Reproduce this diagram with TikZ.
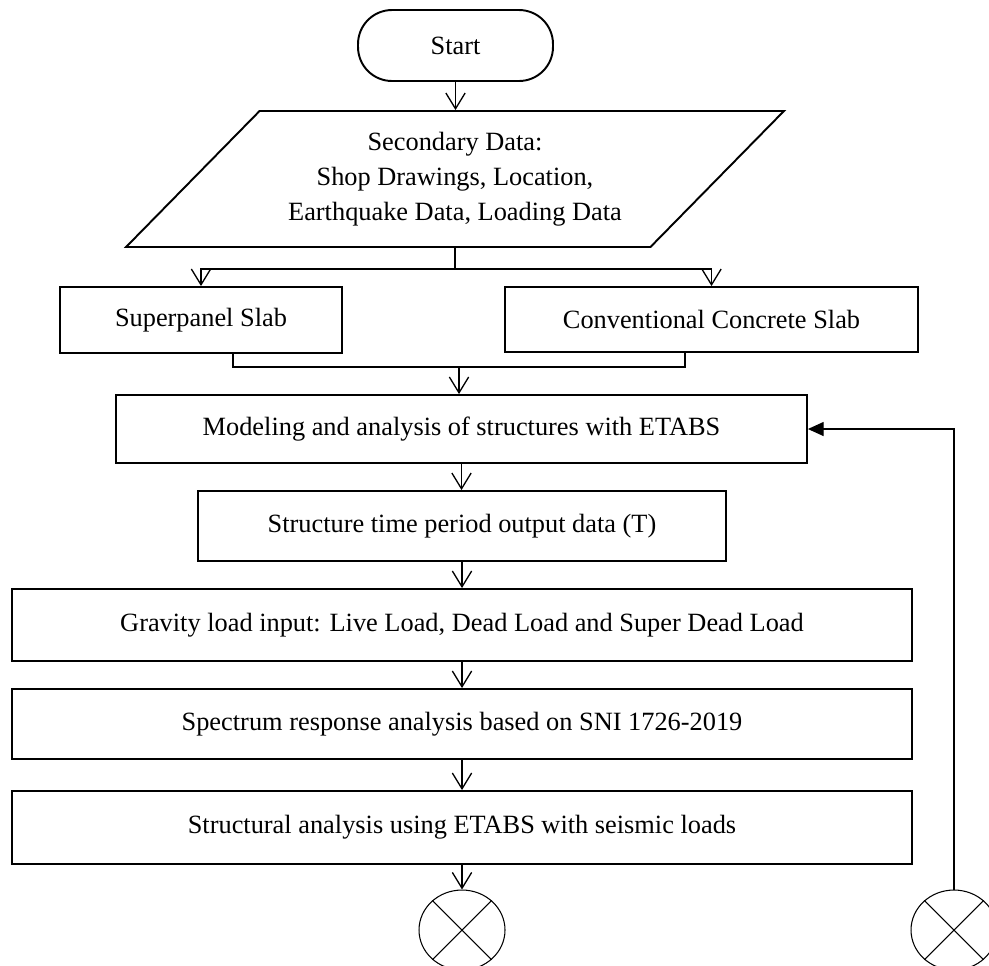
\documentclass[tikz,border=0pt]{standalone}
\usepackage{fontspec}
\setmainfont{Liberation Serif}
\usetikzlibrary{arrows.meta,shapes.geometric}

\tikzset{
  box/.style={draw, line width=1.1pt, inner sep=2pt, align=center},
  conn/.style={line width=0.75pt},
  arr/.style={conn, -{Straight Barb[length=9pt,width=11pt]}},
  fb/.style={conn, -{Triangle[length=9pt,width=8pt]}},
  ends/.style={draw, ellipse, line width=0.6pt, inner sep=0pt, minimum width=1.72cm, minimum height=1.6cm}
}

\begin{document}
\begin{tikzpicture}[x=0.02cm, y=-0.02cm, font=\fontsize{15}{19.8}\selectfont]
\useasboundingbox (0,0) rectangle (989,965);

\node[box, rounded corners=0.68cm, minimum width=3.9cm, minimum height=1.42cm] (start) at (455.5,45.5) {Start};
\node[box, trapezium, trapezium left angle=37, trapezium right angle=143, trapezium stretches body,
      minimum width=13.16cm, minimum height=2.72cm] (data) at (455,179)
      {Secondary Data:\\ Shop Drawings, Location,\\ Earthquake Data, Loading Data};
\node[box, minimum width=5.64cm, minimum height=1.32cm] (super) at (201,320) {Superpanel Slab};
\node[box, minimum width=8.26cm, minimum height=1.3cm] (conv) at (711.5,319.5) {Conventional Concrete Slab};
\node[box, minimum width=13.82cm, minimum height=1.36cm] (model) at (461.5,429) {Modeling and analysis of structures with ETABS};
\node[box, minimum width=10.56cm, minimum height=1.4cm] (period) at (462,526) {Structure time period output data (T)};
\node[box, minimum width=18cm, minimum height=1.44cm] (gravity) at (462,625) {Gravity load input: Live Load, Dead Load and Super Dead Load};
\node[box, minimum width=18cm, minimum height=1.4cm] (spectrum) at (462,724) {Spectrum response analysis based on SNI 1726-2019};
\node[box, minimum width=18cm, minimum height=1.46cm] (seismic) at (462,827.5) {Structural analysis using ETABS with seismic loads};

% Off-page connectors
\node[ends] (conA) at (462,930) {};
\node[ends] (conB) at (954,930) {};
\foreach \c in {conA,conB} {
  \draw[line width=0.6pt] (\c.45) -- (\c.225) (\c.135) -- (\c.315);
}

% Connectors
\draw[arr] (start.south) -- (start.south |- data.north);
\draw[conn] (data.south) -- ++(0,21) coordinate (fork);
\draw[arr] (fork) -| (super.north);
\draw[arr] (fork) -| (conv.north);
\coordinate (join) at (459,367);
\draw[conn] ([xshift=0.64cm]super.south) |- (join) -| ([xshift=-0.53cm]conv.south);
\draw[arr] (join) -- (join |- model.north);
\draw[arr] (model.south) -- (model.south |- period.north);
\draw[arr] (period.south) -- (period.south |- gravity.north);
\draw[arr] (gravity.south) -- (gravity.south |- spectrum.north);
\draw[arr] (spectrum.south) -- (spectrum.south |- seismic.north);
\draw[arr] (seismic.south) -- (conA.north);
\draw[fb] (conB.north) |- (model.east);
\end{tikzpicture}
\end{document}
